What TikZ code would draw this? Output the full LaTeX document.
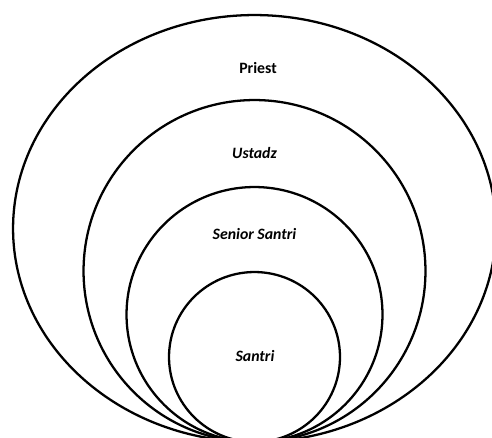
\documentclass[tikz,border=0pt]{standalone}
\usepackage{fontspec}
\setmainfont{Carlito}
\usetikzlibrary{shapes.geometric}

\begin{document}
\begin{tikzpicture}[x=0.02cm,y=-0.02cm,
	ring/.style={ellipse,draw,line width=1.3pt,inner sep=0pt},
	lbl/.style={font=\fontsize{9}{11}\selectfont\bfseries\itshape}]
\useasboundingbox (0,0) rectangle (492,437);
\clip (0,0) rectangle (492,437);
%put the rings, all touching at the bottom
\foreach \name/\cy/\w/\h in {priest/228.5/9.66/8.54, ustadz/271/6.84/6.84, senior/314.5/5.12/5.10, santri/357/3.42/3.40}{
	\node[ring,minimum width=\w cm,minimum height=\h cm] (\name) at (254.5,\cy) {};
}
%put the labels in the rings
\node[lbl,font=\fontsize{9}{11}\selectfont\bfseries] (tpriest) at (258,68) {Priest};
\node[lbl] (tustadz) at (254.5,153) {Ustadz};
\node[lbl] (tsenior) at (254.5,234) {Senior Santri};
\node[lbl] (tsantri) at (255,356) {Santri};
\end{tikzpicture}
\end{document}
